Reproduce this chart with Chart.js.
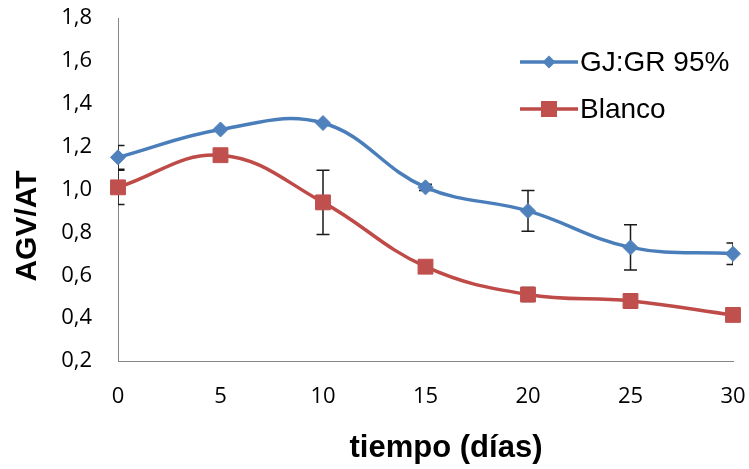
<!DOCTYPE html>
<html>
<head>
<meta charset="utf-8">
<script src="https://cdn.jsdelivr.net/npm/chart.js@4.4.0/dist/chart.umd.min.js"></script>
<style>
  html, body { margin: 0; padding: 0; background: #fff; }
  #wrap { width: 749px; height: 469px; }
</style>
</head>
<body>
<div id="wrap"><canvas id="chart"></canvas></div>
<script>
const days = [0, 5, 10, 15, 20, 25, 30];
const gjValues = [1.15, 1.28, 1.31, 1.01, 0.90, 0.73, 0.70];
const gjErrors = [0.055, 0, 0, 0.015, 0.095, 0.105, 0.05];
const blancoValues = [1.01, 1.16, 0.94, 0.64, 0.51, 0.48, 0.415];
const blancoErrors = [0.08, 0, 0.15, 0, 0.033, 0.033, 0];
const yTicks = [0.2, 0.4, 0.6, 0.8, 1.0, 1.2, 1.4, 1.6, 1.8];
const seriesNames = ['GJ:GR 95%', 'Blanco'];

const BLUE = '#4A7EBB';
const RED = '#BE4B48';

// error bars, clipped to the plot area like the original
const errorBars = {
    id: 'errorBars',
    beforeDatasetsDraw(chart) {
        const { ctx, chartArea, scales: { x, y } } = chart;
        ctx.save();
        ctx.beginPath();
        ctx.rect(chartArea.left, chartArea.top, chartArea.right - chartArea.left, chartArea.bottom - chartArea.top);
        ctx.clip();
        ctx.strokeStyle = '#1a1a1a';
        ctx.lineWidth = 1.5;
        [[gjValues, gjErrors], [blancoValues, blancoErrors]].forEach(([vals, errs]) => {
            days.forEach((d, i) => {
                if (!errs[i]) return;
                const px = x.getPixelForValue(d);
                const top = y.getPixelForValue(vals[i] + errs[i]);
                const bot = y.getPixelForValue(vals[i] - errs[i]);
                ctx.beginPath();
                ctx.moveTo(px, top); ctx.lineTo(px, bot);
                ctx.moveTo(px - 6.5, top); ctx.lineTo(px + 6.5, top);
                ctx.moveTo(px - 6.5, bot); ctx.lineTo(px + 6.5, bot);
                ctx.stroke();
            });
        });
        ctx.restore();
    }
};

// axis titles and the legend inside the plot
const decor = {
    id: 'decor',
    afterDraw(chart) {
        const ctx = chart.ctx;
        ctx.save();
        ctx.fillStyle = '#000';
        ctx.font = 'bold 31px "Liberation Sans", Arial, sans-serif';
        ctx.textAlign = 'center';
        ctx.textBaseline = 'middle';
        ctx.fillText('tiempo (días)', 446, 448);
        ctx.translate(28, 226);
        ctx.rotate(-Math.PI / 2);
        ctx.font = 'bold 30px "Liberation Sans", Arial, sans-serif';
        ctx.fillText('AGV/AT', 0, 0);
        ctx.restore();

        const rows = [
            { y: 62, color: BLUE, fill: '#4F81BD', shape: 'diamond' },
            { y: 109, color: RED, fill: '#C0504D', shape: 'square' }
        ];
        ctx.save();
        ctx.font = '28px "Liberation Sans", Arial, sans-serif';
        ctx.textAlign = 'left';
        ctx.textBaseline = 'middle';
        rows.forEach((r, i) => {
            ctx.strokeStyle = r.color;
            ctx.lineWidth = 3.5;
            ctx.beginPath();
            ctx.moveTo(520, r.y); ctx.lineTo(578, r.y);
            ctx.stroke();
            ctx.fillStyle = r.fill;
            ctx.beginPath();
            if (r.shape === 'diamond') {
                ctx.moveTo(549, r.y - 6.5); ctx.lineTo(555.5, r.y);
                ctx.lineTo(549, r.y + 6.5); ctx.lineTo(542.5, r.y);
                ctx.closePath();
            } else {
                ctx.rect(541, r.y - 8, 16, 16);
            }
            ctx.fill();
            ctx.fillStyle = '#000';
            ctx.fillText(seriesNames[i], 580, r.y + 1);
        });
        ctx.restore();
    }
};

const fmt = v => Number(v).toFixed(1).replace('.', ',');
const noPad = s => { s.paddingTop = 0; s.paddingBottom = 0; s.paddingLeft = 0; s.paddingRight = 0; };

new Chart(document.getElementById('chart'), {
    type: 'line',
    data: {
        datasets: [{
            label: seriesNames[0],
            data: days.map((d, i) => ({ x: d, y: gjValues[i] })),
            borderColor: BLUE,
            backgroundColor: '#4F81BD',
            pointBackgroundColor: '#4F81BD',
            pointBorderColor: '#4F81BD',
            borderWidth: 3.5,
            pointStyle: 'rectRot',
            pointRadius: 7.5,
            pointHoverRadius: 7.5,
            pointBorderWidth: 1,
            tension: 0.4,
            clip: false
        }, {
            label: seriesNames[1],
            data: days.map((d, i) => ({ x: d, y: blancoValues[i] })),
            borderColor: RED,
            backgroundColor: '#C0504D',
            pointBackgroundColor: '#C0504D',
            pointBorderColor: '#C0504D',
            borderWidth: 3.5,
            pointStyle: 'rect',
            pointRadius: 10.5,
            pointHoverRadius: 10.5,
            pointBorderWidth: 1,
            tension: 0.4,
            clip: false
        }]
    },
    options: {
        responsive: true,
        maintainAspectRatio: false,
        animation: false,
        layout: { padding: { top: 18, right: 16, left: 0, bottom: 0 } },
        plugins: {
            legend: { display: false },
            tooltip: { enabled: false }
        },
        scales: {
            x: {
                type: 'linear',
                min: 0,
                max: 30,
                afterBuildTicks: s => { s.ticks = days.map(v => ({ value: v })); },
                afterFit: s => { s.height = 108; noPad(s); },
                grid: { display: false, drawTicks: false },
                border: { display: true, color: '#868686', width: 1 },
                ticks: {
                    padding: 23,
                    color: '#000',
                    font: { family: '"Open Sans", sans-serif', size: 22 },
                    maxRotation: 0
                }
            },
            y: {
                min: 0.2,
                max: 1.8,
                afterBuildTicks: s => { s.ticks = yTicks.map(v => ({ value: v })); },
                afterFit: s => { s.width = 118; noPad(s); },
                grid: { display: false, drawTicks: false },
                border: { display: true, color: '#868686', width: 1 },
                ticks: {
                    padding: 26,
                    color: '#000',
                    font: { family: '"Open Sans", sans-serif', size: 22 },
                    callback: v => fmt(v)
                }
            }
        }
    },
    plugins: [errorBars, decor]
});
</script>
</body>
</html>
